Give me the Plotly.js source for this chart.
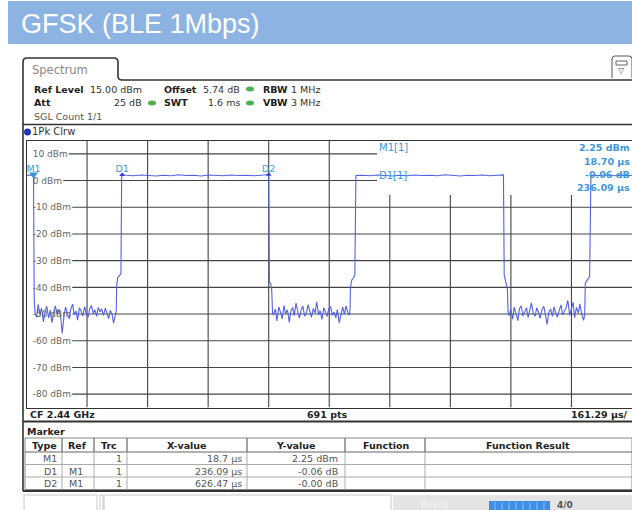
<!DOCTYPE html>
<html><head><meta charset="utf-8">
<script src="https://cdn.plot.ly/plotly-3.0.1.min.js"></script>
<style>html,body{margin:0;padding:0;background:#fff;overflow:hidden}#chart{width:632px;height:510px}</style>
</head><body><div id="chart"></div>
<script>
// ---------------- DATA ----------------
const usPerDiv = 161.29;          // µs per division
const refLevel = 15;              // dBm (top of screen)
const dbPerDiv = 10;
const yTickValues = [10, 0, -10, -20, -30, -40, -50, -60, -70, -80];

// trace segments (time in µs, level in dBm)
const burst1TailTime  = [0, 6, 12, 18.7, 20.5];
const burst1TailLevel = [2.0, 2.1, 1.9, 2.25, -44.0];

const noise1Time  = [22.6, 27, 31, 36, 40, 45, 50, 54, 59, 63, 68, 72, 77, 82, 86, 91, 95, 100, 104, 109, 114, 118, 123, 127, 132, 136, 141, 146, 150, 155, 159, 164, 168, 173, 178, 182, 187, 191, 196, 200, 205, 210, 214, 219, 223, 228, 232, 236];
const noise1Level = [-49.5, -51.2, -46.4, -50.3, -47.8, -52.9, -48.7, -47.1, -51.4, -48.5, -53.2, -49.6, -46.9, -50.4, -48.2, -51.0, -57.3, -50.7, -47.4, -49.9, -51.8, -48.1, -46.3, -50.2, -48.9, -52.3, -47.6, -49.0, -50.8, -47.2, -49.7, -51.3, -48.3, -46.8, -49.8, -48.4, -50.9, -47.5, -49.2, -48.0, -50.5, -47.8, -49.4, -51.7, -48.6, -50.1, -53.4, -50.0];

const burst2Time  = [239.0, 240.2, 242.5, 246.8, 251.5, 253.5, 254.79, 265, 285, 305, 325, 345, 365, 385, 405, 425, 445, 465, 485, 505, 525, 545, 565, 585, 605, 625, 645.17, 647.0, 650.0, 653.0, 655.5];
const burst2Level = [-49.0, -39.5, -36.5, -35.8, -34.8, 1.6, 2.19, 2.0, 1.8, 2.1, 1.9, 1.7, 2.0, 1.8, 2.2, 1.9, 2.0, 1.7, 2.1, 1.9, 1.8, 2.1, 1.9, 2.0, 1.8, 2.0, 2.25, -38.0, -38.5, -40.5, -49.8];

const noise2Time  = [658, 663, 667, 672, 677, 681, 686, 690, 695, 700, 704, 709, 713, 718, 723, 727, 732, 736, 741, 746, 750, 755, 759, 764, 769, 773, 778, 782, 787, 792, 796, 801, 805, 810, 815, 819, 824, 828, 833, 838, 842, 847, 851, 856, 860];
const noise2Level = [-50.2, -48.1, -52.6, -47.3, -49.5, -51.8, -46.7, -49.9, -48.4, -53.1, -49.0, -47.5, -50.6, -45.9, -49.3, -51.5, -48.2, -47.0, -50.8, -49.4, -46.5, -48.8, -51.2, -47.9, -49.6, -45.4, -50.3, -48.7, -52.0, -47.6, -49.1, -50.9, -48.0, -47.2, -50.5, -49.2, -51.4, -48.3, -53.3, -49.7, -47.4, -50.0, -46.9, -49.5, -50.4];

const burst3Time  = [862.0, 862.8, 866.5, 870.5, 874.6, 876.8, 877.5, 895, 915, 935, 955, 975, 995, 1015, 1035, 1055, 1075, 1095, 1115, 1135, 1155, 1175, 1195, 1215, 1235, 1255, 1270.5, 1272.5, 1276.5, 1281.0, 1283.0];
const burst3Level = [-48.0, -40.0, -37.2, -36.5, -35.3, 1.6, 1.9, 2.0, 1.8, 2.1, 1.9, 1.7, 2.0, 1.8, 2.1, 1.9, 2.0, 1.8, 2.2, 1.9, 1.7, 2.0, 1.9, 2.1, 1.8, 2.0, 2.1, -35.5, -38.0, -40.5, -49.5];

const noise3Time  = [1286, 1290, 1295, 1299, 1304, 1309, 1313, 1318, 1322, 1327, 1332, 1336, 1341, 1345, 1350, 1355, 1359, 1364, 1368, 1373, 1378, 1382, 1387, 1391, 1396, 1401, 1405, 1410, 1414, 1419, 1424, 1428, 1433, 1437, 1442, 1447, 1451, 1456, 1460, 1465, 1470, 1474, 1479, 1484];
const noise3Level = [-50.6, -48.2, -51.9, -47.4, -49.8, -52.5, -48.0, -46.9, -50.7, -49.1, -47.6, -51.3, -48.5, -45.8, -49.9, -50.8, -47.7, -49.3, -51.6, -48.4, -47.1, -50.2, -53.9, -49.5, -48.1, -50.9, -47.3, -49.7, -51.1, -48.6, -46.6, -50.3, -49.0, -47.8, -44.9, -50.5, -48.3, -45.6, -51.4, -47.5, -49.6, -46.2, -50.1, -52.4];

const burst4Time  = [1487.0, 1488.5, 1494.0, 1500.0, 1503.5, 1506, 1525, 1545, 1565, 1585, 1605, 1612.9];
const burst4Level = [-50.0, -38.5, -37.2, -36.0, 1.7, 2.0, 1.9, 2.1, 1.8, 2.0, 1.9, 2.0];

// marker table
const markerTypes   = ['M1', 'D1', 'D2'];
const markerRefs    = ['', 'M1', 'M1'];
const markerTrc     = [1, 1, 1];
const markerXValues = [18.7, 236.09, 626.47];   // µs (D relative to M1)
const markerYValues = [2.25, -0.06, -0.00];     // dBm / dB (D relative to M1)
const markerXText   = ['18.7 µs', '236.09 µs', '626.47 µs'];
const markerYText   = ['2.25 dBm', '-0.06 dB', '-0.00 dB'];
const tableHeaders  = ['Type', 'Ref', 'Trc', 'X-value', 'Y-value', 'Function', 'Function Result'];

// ---------------- LAYOUT HELPERS ----------------
const W = 632, H = 510;
const PX0 = 26.5, PX1 = 632, PY0 = 140.5, PY1 = 407.5;
const SPAN = 10 * usPerDiv;
const yTop = refLevel, yBot = refLevel - 10 * dbPerDiv;
const UI = 'DejaVu Sans, Verdana, sans-serif';
const TRACE = '#5262e0';
const MK = '#3b97dc';
const X = px => px / W, Y = py => 1 - py / H;
const pxToT = px => (px - PX0) / (PX1 - PX0) * SPAN;
const pyToDb = py => yTop - (py - PY0) / (PY1 - PY0) * (yTop - yBot);

const traceTime = [].concat(burst1TailTime, noise1Time, burst2Time, noise2Time, burst3Time, noise3Time, burst4Time);
const traceLevel = [].concat(burst1TailLevel, noise1Level, burst2Level, noise2Level, burst3Level, noise3Level, burst4Level);

const shapes = [];
const annotations = [];
function pline(x0, y0, x1, y1, color, width, layer) {
  shapes.push({type: 'line', xref: 'paper', yref: 'paper', x0: X(x0), y0: Y(y0), x1: X(x1), y1: Y(y1),
    line: {color: color, width: width}, layer: layer || 'above'});
}
function prect(x0, y0, x1, y1, fill, lineColor, lw) {
  shapes.push({type: 'rect', xref: 'paper', yref: 'paper', x0: X(x0), y0: Y(y0), x1: X(x1), y1: Y(y1),
    fillcolor: fill, line: {color: lineColor || 'rgba(0,0,0,0)', width: lw || 0}, layer: 'above'});
}
function txt(x, y, text, o) {
  o = o || {};
  annotations.push({xref: 'paper', yref: 'paper', x: X(x), y: Y(y), text: text, showarrow: false,
    xanchor: o.anchor || 'left', yanchor: 'middle', borderpad: 0,
    font: {family: o.family || UI, size: o.size || 9.5, color: o.color || '#222'}});
}

// header band
prect(8, 1, 632, 44, '#8db3e2');
txt(20, 24, 'GFSK (BLE 1Mbps)', {family: 'Liberation Sans, Arial, sans-serif', size: 27, color: '#ffffff'});

// Spectrum tab and window frame
shapes.push({type: 'path', xref: 'paper', yref: 'paper', layer: 'above',
  path: `M ${X(23)},${Y(491)} L ${X(23)},${Y(62)} Q ${X(23)},${Y(58)} ${X(27)},${Y(58)} L ${X(114)},${Y(58)} Q ${X(118)},${Y(58)} ${X(118)},${Y(62)} L ${X(118)},${Y(76)} Q ${X(118)},${Y(80)} ${X(122)},${Y(80)} L ${X(632)},${Y(80)}`,
  line: {color: '#333', width: 1.6}});
txt(31, 70, 'Spectrum', {size: 11.5, color: '#888'});
// small icon top right
shapes.push({type: 'path', xref: 'paper', yref: 'paper', layer: 'above',
  path: `M ${X(612)},${Y(78)} L ${X(612)},${Y(59)} Q ${X(612)},${Y(56)} ${X(615)},${Y(56)} L ${X(629)},${Y(56)} Q ${X(632)},${Y(56)} ${X(632)},${Y(59)} L ${X(632)},${Y(78)}`,
  line: {color: '#555', width: 1}});
prect(616, 61, 627, 65, 'rgba(0,0,0,0)', '#666', 1);
txt(621.5, 71, '▽', {size: 8, color: '#555', anchor: 'center'});

// settings block
txt(33, 89, '<b>Ref Level</b>');
txt(143, 89, '15.00 dBm', {anchor: 'right', color: '#333'});
txt(163, 89, '<b>Offset</b>');
txt(241, 89, '5.74 dB', {anchor: 'right', color: '#333'});
txt(262, 89, '<b>RBW</b>');
txt(290, 89, '1 MHz', {color: '#333'});
txt(33, 103, '<b>Att</b>');
txt(143, 103, '25 dB', {anchor: 'right', color: '#333'});
txt(163, 103, '<b>SWT</b>');
txt(241, 103, '1.6 ms', {anchor: 'right', color: '#333'});
txt(262, 103, '<b>VBW</b>');
txt(290, 103, '3 MHz', {color: '#333'});
txt(33, 117, 'SGL Count 1/1', {color: '#555'});
[[152, 103], [250, 89], [250, 103]].forEach(p => {
  shapes.push({type: 'circle', xref: 'paper', yref: 'paper', x0: X(p[0] - 4), x1: X(p[0] + 4), y0: Y(p[1] - 2.5), y1: Y(p[1] + 2.5),
    fillcolor: '#4caf50', line: {width: 0}, layer: 'above'});
});
pline(23, 124.5, 632, 124.5, '#333', 1.6);

// trace label row
shapes.push({type: 'circle', xref: 'paper', yref: 'paper', x0: X(24), x1: X(31), y0: Y(128.5), y1: Y(135.5),
  fillcolor: '#1f35b5', line: {width: 0}, layer: 'above'});
txt(31, 132, '1Pk Clrw', {size: 10, color: '#333'});
pline(26.5, 140.5, 632, 140.5, '#333', 1);

// grid (drawn below the trace, kept clear of labels and marker info box)
const infoBoxLeftT = pxToT(377);
const infoBoxBottomDb = pyToDb(195);
const cv = document.createElement('canvas').getContext('2d');
cv.font = '9px DejaVu Sans';
yTickValues.forEach(v => {
  const lbl = v + ' dBm';
  const startPx = 33 + cv.measureText(lbl).width + 1;
  shapes.push({type: 'line', xref: 'x', yref: 'y', layer: 'below',
    x0: pxToT(startPx), x1: (v >= 0 ? infoBoxLeftT : SPAN), y0: v, y1: v,
    line: {color: '#444', width: 1.1}});
});
for (let k = 1; k <= 9; k++) {
  shapes.push({type: 'line', xref: 'x', yref: 'y', layer: 'below',
    x0: k * usPerDiv, x1: k * usPerDiv, y0: yBot, y1: (k * usPerDiv > infoBoxLeftT ? infoBoxBottomDb : yTop),
    line: {color: '#444', width: 1.1}});
}

// marker info (top right of diagram)
const m1T = markerXValues[0], m1L = markerYValues[0];
txt(378, 147, markerTypes[0] + '[1]', {size: 10, color: MK, family: UI});
txt(378, 175, markerTypes[1] + '[1]', {size: 10, color: MK});
txt(631, 147, `<b>${m1L.toFixed(2)} dBm</b>`, {anchor: 'right', size: 9.5, color: MK});
txt(631, 161, `<b>${m1T.toFixed(2)} µs</b>`, {anchor: 'right', size: 9.5, color: MK});
txt(631, 174, `<b>${markerYValues[1].toFixed(2)} dB</b>`, {anchor: 'right', size: 9.5, color: MK});
txt(631, 187, `<b>${markerXValues[1].toFixed(2)} µs</b>`, {anchor: 'right', size: 9.5, color: MK});

// footer of diagram
txt(29, 414.5, '<b>CF 2.44 GHz</b>', {size: 9.5});
txt(327, 414.5, '<b>691 pts</b>', {size: 9.5, anchor: 'center'});
txt(629, 414.5, '<b>161.29 µs/</b>', {size: 9.5, anchor: 'right'});
pline(23, 421.5, 632, 421.5, '#333', 2);

// marker table
txt(26, 431, '<b>Marker</b>', {size: 9.5});
const colEdges = [25, 62, 94, 127, 247, 345, 425, 632];
const headerCenters = [44, 77, 109, 187, 296, 386, 528];
const rowTop = 438, headBot = 452, rowBots = [464.5, 477, 489.5];
prect(25, rowTop, 632, 489.5, 'rgba(0,0,0,0)', '#888', 1);
pline(25, headBot, 632, headBot, '#666', 1.2);
pline(25, rowBots[0], 632, rowBots[0], '#aaa', 1);
pline(25, rowBots[1], 632, rowBots[1], '#aaa', 1);
colEdges.slice(1, -1).forEach(x => {
  pline(x, rowTop, x, headBot, '#666', 1.2);
  pline(x, headBot, x, 489.5, '#aaa', 1);
});
tableHeaders.forEach((h, i) => txt(headerCenters[i], 445, `<b>${h}</b>`, {anchor: 'center', size: 9.5}));
const rowMid = [458.5, 471, 483.5];
markerTypes.forEach((m, i) => {
  txt(57.5, rowMid[i], m, {anchor: 'right', color: '#555'});
  if (markerRefs[i]) txt(84, rowMid[i], markerRefs[i], {anchor: 'right', color: '#555'});
  txt(123, rowMid[i], String(markerTrc[i]), {anchor: 'right', color: '#555'});
  txt(243, rowMid[i], markerXText[i], {anchor: 'right', color: '#555'});
  txt(339, rowMid[i], markerYText[i], {anchor: 'right', color: '#555'});
});
pline(23, 491, 632, 491, '#333', 2);

// status bar
prect(24, 495, 97, 511, '#ffffff', '#c8c8c8', 1);
prect(100, 495, 103, 511, '#ffffff', '#c8c8c8', 1);
prect(104, 495, 391, 511, '#ffffff', '#c8c8c8', 1);
prect(393, 495, 632, 511, '#e4e4e4');
txt(420, 504, 'Ready', {size: 9, color: '#f4f4f4'});
prect(489, 501, 550, 511, '#3d8fe6');
for (let s = 495; s < 548; s += 7) pline(s, 502, s, 511, '#8cc0f5', 1);
txt(556, 505, '<b>4/0</b>', {size: 9, color: '#555'});

// ---------------- TRACES ----------------
const markerT = [m1T, m1T + markerXValues[1], m1T + markerXValues[2]];
const markerL = [m1L, m1L + markerYValues[1], m1L + markerYValues[2]];

const data = [
  {type: 'scatter', mode: 'lines', x: traceTime, y: traceLevel, line: {color: TRACE, width: 1.1}, hoverinfo: 'skip'},
  {type: 'scatter', mode: 'markers', x: [markerT[0]], y: [markerL[0]],
   marker: {symbol: 'triangle-down', size: 8, color: MK}, hoverinfo: 'skip'},
  {type: 'scatter', mode: 'markers', x: markerT.slice(1), y: markerL.slice(1),
   marker: {symbol: 'triangle-up', size: 5, color: '#3040c0'}, hoverinfo: 'skip'},
  {type: 'scatter', mode: 'text', x: markerT, y: markerL, text: markerTypes, textposition: 'top center',
   textfont: {family: UI, size: 9.5, color: MK}, hoverinfo: 'skip'}
];

const layout = {
  width: W, height: H, margin: {l: 0, r: 0, t: 0, b: 0, pad: 0},
  paper_bgcolor: '#ffffff', plot_bgcolor: 'rgba(0,0,0,0)', showlegend: false,
  xaxis: {domain: [PX0 / W, PX1 / W], range: [0, SPAN], showgrid: false, zeroline: false,
    showticklabels: false, ticks: '', showline: true, mirror: true, linecolor: '#333', linewidth: 1, fixedrange: true},
  yaxis: {domain: [1 - PY1 / H, 1 - PY0 / H], range: [yBot, yTop], tickvals: yTickValues,
    ticktext: yTickValues.map(v => v + ' dBm'), ticklabelposition: 'inside', ticks: '', ticklabelstandoff: 5,
    tickfont: {family: UI, size: 9, color: '#666'}, showgrid: false, zeroline: false,
    showline: true, mirror: true, linecolor: '#333', linewidth: 1, fixedrange: true},
  shapes: shapes, annotations: annotations
};
Plotly.newPlot('chart', data, layout, {displayModeBar: false, staticPlot: true});
</script></body></html>
